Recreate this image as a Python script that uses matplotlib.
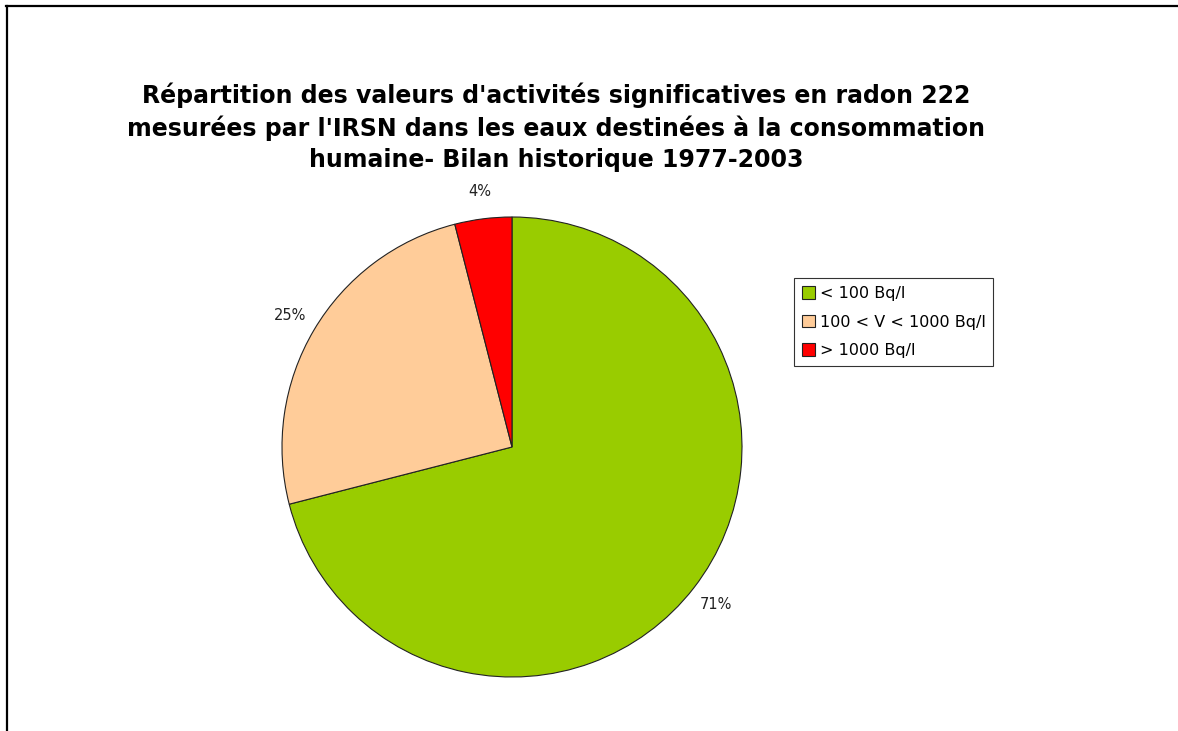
import matplotlib
matplotlib.use("Agg")
import matplotlib.pyplot as plt
from matplotlib.lines import Line2D

labels = ["< 100 Bq/l", "100 < V < 1000 Bq/l", "> 1000 Bq/l"]
shares = [71, 25, 4]
colors = ["#99CC00", "#FFCC99", "#FF0000"]

title = ("Répartition des valeurs d'activités significatives en radon 222\n"
         "mesurées par l'IRSN dans les eaux destinées à la consommation\n"
         "humaine- Bilan historique 1977-2003")

W, H = 1178, 731
fig = plt.figure(figsize=(W / 100, H / 100), dpi=100)

# pie centred at (512, 447) px, radius 230 px
cx, cy, r = 512, 447, 230
ax = fig.add_axes([(cx - r) / W, (H - cy - r) / H, 2 * r / W, 2 * r / H])
wedges, texts, autotexts = ax.pie(
    shares, colors=colors, startangle=90, counterclock=False,
    autopct="%1.0f%%", pctdistance=1.12, radius=1,
    wedgeprops=dict(edgecolor="#222222", linewidth=0.8),
    textprops=dict(fontsize=10.5, color="#222222"),
)
ax.set_xlim(-1, 1)
ax.set_ylim(-1, 1)
ax.set_aspect("equal")
ax.axis("off")

fig.text(556 / W, 1 - 82 / H, title, ha="center", va="top",
         fontsize=17, fontweight="bold", linespacing=1.37)

leg = fig.legend(wedges, labels, loc="upper left",
                 bbox_to_anchor=(794 / W, 1 - 278 / H),
                 fontsize=11.5, frameon=True, fancybox=False,
                 handlelength=0.8, handleheight=0.8, handletextpad=0.3,
                 borderpad=0.5, labelspacing=0.85, borderaxespad=0)
leg.get_frame().set_edgecolor("black")
leg.get_frame().set_linewidth(0.8)

# frame lines on top and left edges
fig.add_artist(Line2D([6 / W, 1], [1 - 6 / H, 1 - 6 / H], color="black", lw=1.6,
                      transform=fig.transFigure))
fig.add_artist(Line2D([7 / W, 7 / W], [0, 1 - 6 / H], color="black", lw=1.6,
                      transform=fig.transFigure))

fig.savefig("out.png", dpi=100)
